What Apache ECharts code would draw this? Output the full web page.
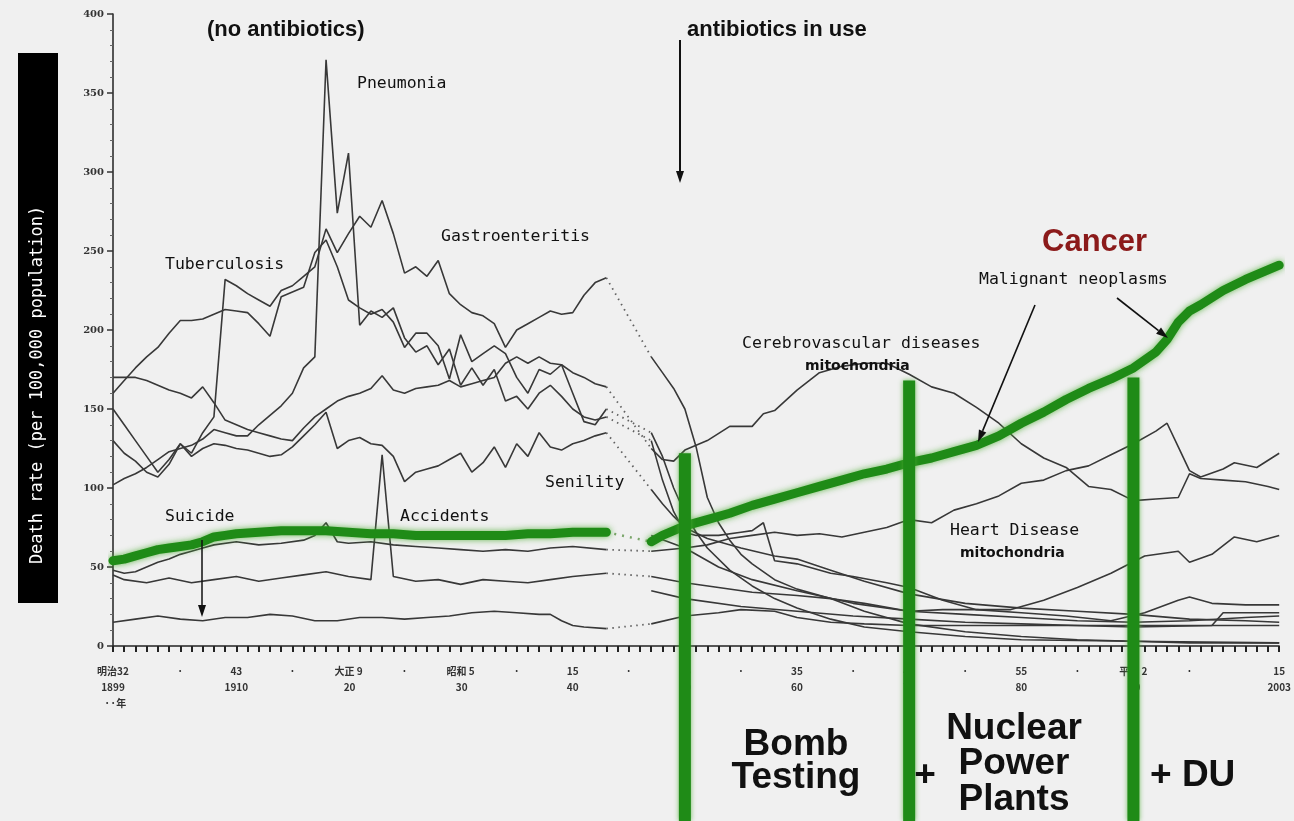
<!DOCTYPE html>
<html>
<head>
<meta charset="utf-8">
<title>Death rate by cause</title>
<script src="https://cdn.jsdelivr.net/npm/echarts@6/dist/echarts.min.js"></script>
<style>
  html, body { margin: 0; padding: 0; background: #f0f0f0; }
  #chart { width: 1294px; height: 821px; }
</style>
</head>
<body>
<div id="chart"></div>
<script>
// [year, deaths per 100,000]; null = wartime gap (drawn dotted)
const cancer = [[1899,54],[1900,55],[1901,57],[1902,59],[1903,61],[1904,62],[1905,63],[1906,64],[1907,66],[1908,69],[1909,70],[1910,71],[1912,72],[1914,73],[1916,73],[1918,73],[1920,72],[1922,71],[1924,71],[1926,70],[1928,70],[1930,70],[1932,70],[1934,70],[1936,71],[1938,71],[1940,72],[1943,72],
  null,
  [1947,66],[1948,70],[1949,73],[1950,76],[1952,80],[1954,84],[1956,89],[1958,93],[1960,97],[1962,101],[1964,105],[1966,109],[1968,112],[1970,116],[1972,119],[1974,123],[1976,127],[1978,133],[1980,141],[1982,148],[1984,156],[1986,163],[1988,169],[1990,176],[1992,186],[1993,194],[1994,205],[1995,212],[1996,216],[1998,225],[2000,232],[2002,238],[2003,241]];

const gastro = [[1899,150],[1900,140],[1901,130],[1902,120],[1903,110],[1904,118],[1905,128],[1906,122],[1907,135],[1908,145],[1909,232],[1910,228],[1911,223],[1912,219],[1913,215],[1914,225],[1915,228],[1916,234],[1917,240],[1918,264],[1919,249],[1920,261],[1921,272],[1922,265],[1923,282],[1924,261],[1925,236],[1926,240],[1927,234],[1928,244],[1929,223],[1930,216],[1931,211],[1932,209],[1933,204],[1934,189],[1935,200],[1936,204],[1937,208],[1938,212],[1939,210],[1940,211],[1941,222],[1942,230],[1943,233],
  null,
  [1947,183],[1948,173],[1949,163],[1950,150],[1951,126],[1952,94],[1953,78],[1954,67],[1955,58],[1956,52],[1958,42],[1960,36],[1963,30],[1966,22],[1970,14],[1975,9],[1980,6],[1985,4],[1990,3],[1995,2],[2003,2]];

const tuberculosis = [[1899,160],[1900,168],[1901,176],[1902,183],[1903,189],[1904,198],[1905,206],[1906,206],[1907,207],[1908,210],[1909,213],[1910,212],[1911,211],[1912,204],[1913,196],[1914,221],[1915,224],[1916,227],[1917,249],[1918,257],[1919,240],[1920,219],[1921,214],[1922,210],[1923,213],[1924,205],[1925,189],[1926,198],[1927,198],[1928,190],[1929,169],[1930,197],[1931,180],[1932,185],[1933,190],[1934,185],[1935,170],[1936,160],[1937,175],[1938,172],[1939,178],[1940,160],[1941,142],[1942,140],[1943,150],
  null,
  [1947,135],[1948,120],[1949,100],[1950,84],[1951,72],[1952,62],[1954,48],[1956,38],[1958,30],[1960,24],[1963,17],[1966,12],[1970,9],[1975,6],[1980,4],[1990,3],[2003,2]];

const pneumonia = [[1899,102],[1900,106],[1901,109],[1902,113],[1903,118],[1904,123],[1905,125],[1906,127],[1907,131],[1908,137],[1909,135],[1910,133],[1911,133],[1912,140],[1913,146],[1914,152],[1915,160],[1916,176],[1917,183],[1918,371],[1919,274],[1920,312],[1921,203],[1922,212],[1923,208],[1924,214],[1925,195],[1926,186],[1927,190],[1928,178],[1929,188],[1930,165],[1931,176],[1932,165],[1933,175],[1934,155],[1935,158],[1936,150],[1937,160],[1938,165],[1939,158],[1940,150],[1941,145],[1942,143],[1943,145],
  null,
  [1947,130],[1948,105],[1949,85],[1950,72],[1951,70],[1953,70],[1955,72],[1956,73],[1957,78],[1958,54],[1960,52],[1963,46],[1965,44],[1968,40],[1970,37],[1973,29],[1976,23],[1979,23],[1982,29],[1985,37],[1988,46],[1991,57],[1994,60],[1995,53],[1997,58],[1999,69],[2001,66],[2003,70]];

const cerebro = [[1899,170],[1900,170],[1901,170],[1902,168],[1903,165],[1904,162],[1905,160],[1906,157],[1907,164],[1908,154],[1909,143],[1910,140],[1911,137],[1912,135],[1913,133],[1914,131],[1915,130],[1916,138],[1917,145],[1918,150],[1919,155],[1920,158],[1921,160],[1922,163],[1923,171],[1924,162],[1925,160],[1926,163],[1927,164],[1928,165],[1929,168],[1930,164],[1931,166],[1932,168],[1933,170],[1934,179],[1935,183],[1936,179],[1937,183],[1938,179],[1939,178],[1940,173],[1941,170],[1942,166],[1943,164],
  null,
  [1947,125],[1948,118],[1949,117],[1950,124],[1952,130],[1954,139],[1956,139],[1957,147],[1958,149],[1960,162],[1962,173],[1964,177],[1966,179],[1968,179],[1970,172],[1972,164],[1974,160],[1976,151],[1978,141],[1980,128],[1982,119],[1984,113],[1986,101],[1988,99],[1990,92],[1992,93],[1994,94],[1995,109],[1996,106],[1998,105],[2000,104],[2002,101],[2003,99]];

const senility = [[1899,130],[1900,122],[1901,117],[1902,110],[1903,107],[1904,115],[1905,128],[1906,120],[1907,125],[1908,128],[1909,127],[1910,125],[1911,124],[1912,122],[1913,120],[1914,121],[1915,126],[1916,133],[1917,140],[1918,148],[1919,125],[1920,130],[1921,132],[1922,128],[1923,127],[1924,120],[1925,104],[1926,110],[1927,112],[1928,114],[1929,118],[1930,122],[1931,110],[1932,116],[1933,126],[1934,113],[1935,128],[1936,120],[1937,135],[1938,126],[1939,124],[1940,128],[1941,130],[1942,133],[1943,135],
  null,
  [1947,99],[1948,90],[1949,82],[1950,75],[1952,68],[1955,62],[1958,57],[1960,55],[1963,48],[1966,41],[1970,33],[1975,27],[1980,24],[1985,22],[1990,20],[1995,17],[2000,16],[2003,15]];

const heart = [[1899,48],[1900,46],[1901,47],[1902,50],[1903,53],[1904,55],[1905,58],[1906,60],[1907,62],[1908,64],[1910,66],[1912,64],[1914,65],[1916,67],[1917,70],[1918,78],[1919,66],[1920,65],[1922,66],[1924,64],[1926,63],[1928,62],[1930,61],[1932,60],[1934,61],[1936,60],[1938,62],[1940,63],[1943,61],
  null,
  [1947,60],[1950,62],[1952,64],[1954,68],[1956,70],[1958,72],[1960,70],[1962,71],[1964,69],[1966,72],[1968,75],[1970,80],[1972,78],[1974,86],[1976,90],[1978,95],[1980,103],[1982,105],[1984,111],[1986,114],[1988,121],[1990,128],[1992,136],[1993,141],[1994,126],[1995,111],[1996,107],[1998,112],[1999,116],[2001,113],[2003,122]];

const accidents = [[1899,45],[1900,42],[1902,40],[1904,43],[1906,40],[1908,42],[1910,44],[1912,41],[1914,43],[1916,45],[1918,47],[1920,44],[1922,42],[1923,121],[1924,44],[1926,41],[1928,42],[1930,39],[1932,42],[1934,41],[1936,40],[1938,42],[1940,44],[1943,46],
  null,
  [1947,44],[1950,40],[1953,37],[1956,34],[1960,32],[1963,30],[1966,27],[1970,22],[1973,23],[1976,23],[1980,21],[1984,19],[1988,16],[1991,21],[1994,29],[1995,31],[1997,27],[2000,26],[2003,26]];

const suicide = [[1899,15],[1901,17],[1903,19],[1905,17],[1907,16],[1909,18],[1911,18],[1913,20],[1915,19],[1917,16],[1919,16],[1921,18],[1923,18],[1925,17],[1927,18],[1929,19],[1931,21],[1933,22],[1935,21],[1937,20],[1938,20],[1939,16],[1940,13],[1941,12],[1943,11],
  null,
  [1947,14],[1950,19],[1953,21],[1955,23],[1958,22],[1960,18],[1963,15],[1966,14],[1970,13],[1975,13],[1980,13],[1985,13],[1990,12],[1997,13],[1998,21],[2003,21]];

// minor post-war causes
const liver = [[1947,35],[1950,30],[1955,25],[1960,22],[1965,19],[1970,17],[1975,15],[1980,14],[1985,13],[1990,13],[1995,13],[2003,13]];
const nephritis = [[1947,70],[1950,62],[1953,50],[1956,42],[1960,35],[1965,27],[1970,22],[1975,20],[1980,18],[1985,16],[1990,15],[1995,16],[2000,18],[2003,19]];

const tickLabels = [[1899,'明治32\n1899\n  ··年'],[1905,'·'],[1910,'43\n1910'],[1915,'·'],[1920,'大正 9\n 20'],[1925,'·'],[1930,'昭和 5\n 30'],[1935,'·'],[1940,'15\n40'],[1945,'·'],[1950,'25\n50'],[1955,'·'],[1960,'35\n60'],[1965,'·'],[1970,'45\n70'],[1975,'·'],[1980,'55\n80'],[1985,'·'],[1990,'平成 2\n 90'],[1995,'·'],[2003,'15\n2003']];

// tops of the green era markers [year, value]
const eraBars = [[1950,122],[1970,168],[1990,170]];

const GAP_YEAR = 1945;
const labelFor = {};
tickLabels.forEach(t => { labelFor[t[0]] = t[1]; });

function solid(d) { return d.map(p => p ? p : [GAP_YEAR, '-']); }
function bridge(d) { const i = d.indexOf(null); return i < 0 ? [] : [d[i - 1], d[i + 1]]; }

const greyLines = [
  ['Gastroenteritis', gastro], ['Tuberculosis', tuberculosis], ['Pneumonia', pneumonia],
  ['Cerebrovascular diseases', cerebro], ['Senility', senility], ['Heart Disease', heart],
  ['Accidents', accidents], ['Suicide', suicide], ['Liver', liver], ['Nephritis', nephritis]
];

const series = [];
greyLines.forEach(([name, d]) => {
  series.push({
    name: name, type: 'line', data: solid(d), symbol: 'none', connectNulls: false,
    lineStyle: { color: '#383838', width: 1.6 }, z: 2, silent: true
  });
  const b = bridge(d);
  if (b.length) {
    series.push({
      name: name + ' (gap)', type: 'line', data: b, symbol: 'none',
      lineStyle: { color: '#606060', width: 1.8, type: [1.5, 4.5] }, z: 2, silent: true
    });
  }
});
series.push({
  name: 'Cancer (gap)', type: 'line', data: bridge(cancer), symbol: 'none',
  lineStyle: { color: '#7aa56a', width: 2.5, type: [2, 6] }, z: 4, silent: true
});
series.push({
  name: 'Malignant neoplasms', type: 'line', data: solid(cancer), symbol: 'none', connectNulls: false,
  lineStyle: { color: '#1f8b17', width: 9, cap: 'round', join: 'round',
               shadowBlur: 6, shadowColor: 'rgba(80,175,55,0.85)' },
  z: 5, silent: true
});

const chart = echarts.init(document.getElementById('chart'));
chart.setOption({
  animation: false,
  backgroundColor: '#f0f0f0',
  grid: { left: 113, right: 11, top: 14, bottom: 175 },
  xAxis: {
    type: 'value', min: 1899, max: 2003, interval: 1,
    axisLine: { show: true, lineStyle: { color: '#222', width: 1.5 } },
    axisTick: { show: true, length: 6, lineStyle: { color: '#222', width: 2 } },
    splitLine: { show: false },
    axisLabel: {
      formatter: v => labelFor[v] || '',
      fontSize: 10, lineHeight: 16, color: '#333', fontWeight: 'bold',
      fontFamily: 'Noto Sans CJK JP', margin: 17, showMinLabel: true, showMaxLabel: true
    }
  },
  yAxis: {
    type: 'value', min: 0, max: 400, interval: 50,
    axisLine: { show: true, lineStyle: { color: '#222', width: 1.5 } },
    axisTick: { show: true, length: 6, lineStyle: { color: '#333', width: 1.5 } },
    minorTick: { show: true, splitNumber: 5, length: 3, lineStyle: { color: '#666' } },
    splitLine: { show: false },
    axisLabel: { fontSize: 10, color: '#333', fontWeight: 'bold', fontFamily: 'DejaVu Serif', margin: 9 }
  },
  series: series
});

// ---- annotations ----
function txt(text, x, y, font, fill, align) {
  return { type: 'text', x: x, y: y, z: 50,
    style: { text: text, font: font, fill: fill || '#111', align: align || 'left', verticalAlign: 'middle',
             textAlign: align || 'left', textVerticalAlign: 'middle' } };
}
function arrow(x1, y1, x2, y2, w) {
  const a = Math.atan2(y2 - y1, x2 - x1), L = 12, H = 4;
  const bx = x2 - L * Math.cos(a), by = y2 - L * Math.sin(a);
  return [
    { type: 'line', z: 50, shape: { x1: x1, y1: y1, x2: bx, y2: by }, style: { stroke: '#111', lineWidth: w || 1.6 } },
    { type: 'polygon', z: 50, shape: { points: [[x2, y2],
      [bx + H * Math.sin(a), by - H * Math.cos(a)], [bx - H * Math.sin(a), by + H * Math.cos(a)]] },
      style: { fill: '#111' } }
  ];
}

const label = '16.5px "DejaVu Sans Mono"';
const small = 'bold 14px "DejaVu Sans"';
const big = 'bold 37px "Liberation Sans"';
let graphics = [
  { type: 'rect', z: 50, shape: { x: 18, y: 53, width: 40, height: 550 }, style: { fill: '#000' } },
  { type: 'text', z: 51, x: 38, y: 385, rotation: Math.PI / 2,
    style: { text: 'Death rate (per 100,000 population)', font: '17px "DejaVu Sans Mono"', fill: '#fff',
             align: 'center', verticalAlign: 'middle', textAlign: 'center', textVerticalAlign: 'middle' } },
  txt('(no antibiotics)', 207, 30, 'bold 22px "Liberation Sans"'),
  txt('antibiotics in use', 687, 30, 'bold 22px "Liberation Sans"'),
  txt('Pneumonia', 357, 84, label),
  txt('Tuberculosis', 165, 265, label),
  txt('Gastroenteritis', 441, 237, label),
  txt('Suicide', 165, 517, label),
  txt('Accidents', 400, 517, label),
  txt('Senility', 545, 483, label),
  txt('Cerebrovascular diseases', 742, 344, label),
  txt('mitochondria', 805, 366, small),
  txt('Cancer', 1042, 242, 'bold 31px "Liberation Sans"', '#8b1a1a'),
  txt('Malignant neoplasms', 979, 280, label),
  txt('Heart Disease', 950, 531, label),
  txt('mitochondria', 960, 553, small),
  txt('Bomb', 796, 745, big, '#111', 'center'),
  txt('Testing', 796, 778, big, '#111', 'center'),
  txt('+', 925, 776, big, '#111', 'center'),
  txt('Nuclear', 1014, 729, big, '#111', 'center'),
  txt('Power', 1014, 764, big, '#111', 'center'),
  txt('Plants', 1014, 800, big, '#111', 'center'),
  txt('+ DU', 1150, 776, big)
];
graphics = graphics.concat(arrow(680, 40, 680, 183, 2), arrow(1035, 305, 978, 442),
                           arrow(1117, 298, 1168, 338), arrow(202, 540, 202, 617, 1.5));

eraBars.forEach(b => {
  const p = chart.convertToPixel({ gridIndex: 0 }, b);
  graphics.push({ type: 'line', z: 40, shape: { x1: p[0], y1: p[1], x2: p[0], y2: 821 },
    style: { stroke: '#1f8b17', lineWidth: 12, shadowBlur: 5, shadowColor: 'rgba(80,175,55,0.8)' } });
});

chart.setOption({ graphic: { elements: graphics } });
</script>
</body>
</html>
